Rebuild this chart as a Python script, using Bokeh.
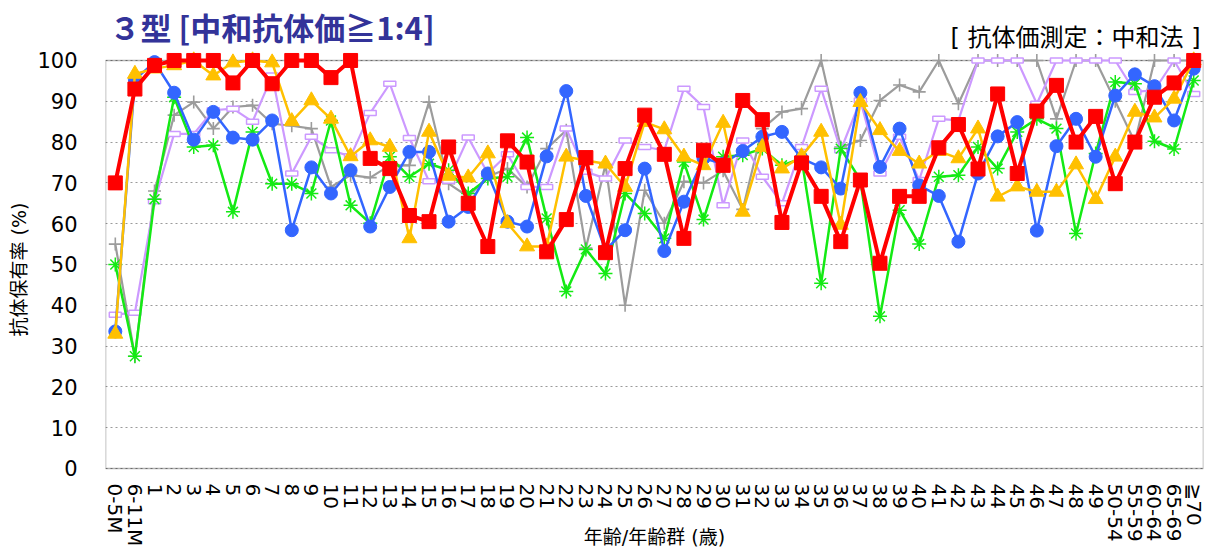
import math
from bokeh.plotting import figure
from bokeh.models import FactorRange, Range1d, FixedTicker, BoxAnnotation, Label, Title
from bokeh.embed import file_html
from bokeh.resources import INLINE

cats = ["0-5M", "6-11M", "1", "2", "3", "4", "5", "6", "7", "8", "9", "10",
        "11", "12", "13", "14", "15", "16", "17", "18", "19", "20",
        "21", "22", "23", "24", "25", "26", "27", "28", "29", "30",
        "31", "32", "33", "34", "35", "36", "37", "38", "39", "40",
        "41", "42", "43", "44", "45", "46", "47", "48", "49",
        "50-54", "55-59", "60-64", "65-69", "≧70"]

gray = [55, 27.5, 68, 86.6, 89.8, 83.3, 88.6, 89, 84.5, 84, 83.3, 69,
        71.9, 71.3, 74.3, 74.3, 89.8, 69.8, 66.6, 71.5, 73.5, 69,
        78.4, 82.9, 54, 74.5, 40, 68.2, 60.1, 70.3, 70, 73,
        63.5, 83.3, 87.4, 88.2, 100, 78.8, 80.4, 90.2, 94, 92.3,
        100, 89.4, 100, 100, 100, 100, 85.7, 100, 100,
        90, 80, 100, 100, 100]

violet = [37.7, 38.2, 65.5, 82, 82, 87.8, 88.2, 85, 96.3, 72.3, 81.3, 78,
          76.5, 87.1, 94.3, 81, 70.4, 70.5, 81.1, 72.3, 77, 69,
          69, 83.3, 72.7, 71.1, 80.4, 78.8, 78, 93.1, 88.6, 64.5,
          80.4, 71.5, 65, 78.8, 93.1, 78, 90.2, 72.3, 81.3, 70.7,
          85.7, 85.3, 100, 100, 100, 89.4, 100, 100, 100,
          100, 92.3, 92.7, 100, 91.8]

green = [50, 27.5, 66, 91, 78.8, 79.2, 62.9, 82.5, 69.8, 69.8, 67.4, 85.3,
         64.5, 60.1, 76.4, 71.5, 74.7, 73.1, 67.4, 71.1, 71.5, 81.1,
         61.3, 43.4, 53.7, 47.8, 67.4, 62.5, 56.4, 75.1, 61, 76.4,
         76.8, 78.4, 74.3, 76, 45.4, 78.4, 70.7, 37.3, 63.3, 55,
         71.5, 71.9, 78.8, 73.5, 82.5, 85.7, 83.3, 57.6, 77.2,
         94.7, 94.3, 80.2, 78.3, 95.1]

blue = [33.6, 95.3, 99.6, 92.1, 80.6, 87.4, 81.1, 80.6, 85.3, 58.4, 73.8, 67.4,
        73.1, 59.3, 69, 77.6, 77.6, 60.5, 64.1, 72.3, 60.5, 59.3,
        76.5, 92.5, 66.8, 53.5, 58.4, 73.5, 53.3, 65.4, 76, 74.7,
        77.8, 81.3, 82.5, 76, 73.8, 68.6, 92.1, 73.9, 83.3, 69.4,
        66.8, 55.6, 72.3, 81.4, 84.9, 58.3, 79, 85.7, 76.4,
        91.4, 96.6, 93.7, 85.3, 98]

yellow = [33, 96.7, 98, 98.8, 100, 96.3, 99.5, 100, 99.5, 85.1, 90.2, 85.7,
          76.5, 80.4, 78.8, 56.4, 82.5, 71.7, 71.3, 77.2, 60.1, 54.4,
          54.4, 76.4, 75.5, 74.7, 69, 84.9, 83.1, 76.4, 74.3, 84.7,
          62.9, 78.8, 73.5, 76.5, 82.5, 59.7, 89.8, 82.9, 77.8, 74.7,
          77.8, 76, 83.3, 66.6, 69.1, 67.8, 67.8, 74.5, 66,
          76.4, 87.4, 86, 90.6, 100]

red = [70, 93, 98.8, 100, 100, 100, 94.5, 100, 94.3, 100, 100, 95.8,
       100, 76, 73.5, 62, 60.5, 78.8, 65, 54.4, 80.3, 75.1,
       53.1, 61, 76.2, 52.9, 73.5, 86.6, 77, 56.4, 78, 74.3,
       90.2, 85.5, 60.3, 74.9, 66.7, 55.6, 70.7, 50.3, 66.7, 66.7,
       78.6, 84.3, 73.4, 91.8, 72.3, 87.6, 93.9, 80, 86.3,
       69.8, 80, 91, 94.5, 100]

y_ticks = [0, 10, 20, 30, 40, 50, 60, 70, 80, 90, 100]

title_text = "３型 [中和抗体価≧1:4]"
method_text = "[ 抗体価測定：中和法 ]"
y_title = "抗体保有率 (%)"
x_title = "年齢/年齢群 (歳)"

MIXED = "'DejaVu Sans', 'Noto Sans CJK JP'"

p = figure(x_range=FactorRange(*cats), y_range=Range1d(-20.1, 112.25),
           width=1208, height=550, output_backend="svg", toolbar_location=None,
           min_border_left=105, min_border_right=5, min_border_top=10,
           min_border_bottom=0)
p.outline_line_color = None
p.background_fill_color = "white"
p.border_fill_color = "white"

p.yaxis.ticker = FixedTicker(ticks=y_ticks)
p.yaxis.axis_line_color = None
p.yaxis.major_tick_line_color = None
p.yaxis.minor_tick_line_color = None
p.yaxis.major_tick_in = 0
p.yaxis.major_tick_out = 0
p.yaxis.major_label_standoff = 28
p.yaxis.major_label_text_font = "DejaVu Sans"
p.yaxis.major_label_text_font_size = "21px"
p.yaxis.major_label_text_color = "black"

p.xaxis.fixed_location = 0
p.xaxis.axis_line_color = None
p.xaxis.major_tick_line_color = None
p.xaxis.minor_tick_line_color = None
p.xaxis.major_tick_in = 0
p.xaxis.major_tick_out = 0
p.xaxis.major_label_orientation = "vertical"
p.xaxis.major_label_standoff = 15
p.xaxis.major_label_text_font = "DejaVu Sans"
p.xaxis.major_label_text_font_size = "20px"
p.xaxis.major_label_text_color = "black"

p.xgrid.visible = False
p.ygrid.grid_line_color = "#9a9a9a"
p.ygrid.grid_line_dash = "2 3"
p.ygrid.grid_line_width = 1.2

frame_box = BoxAnnotation(bottom=0, top=100, fill_color=None, fill_alpha=0,
                          line_color="black", line_width=1.6, level="underlay")
p.add_layout(frame_box)

# gray
p.line(cats, gray, line_color="#9c9c9c", line_width=2.2)
p.scatter(cats, gray, marker="cross", size=13, line_color="#9c9c9c", line_width=1.6)
# violet
p.line(cats, violet, line_color="#cc99ff", line_width=2.2)
p.rect(x=cats, y=violet, width=12, height=5, width_units="screen", height_units="screen",
       fill_color="white", line_color="#cc99ff", line_width=1.5)
# green
p.line(cats, green, line_color="#14ea14", line_width=2.5)
p.scatter(cats, green, marker="asterisk", size=14, line_color="#14ea14", line_width=1.5)
# blue
p.line(cats, blue, line_color="#3366ff", line_width=2.5)
p.scatter(cats, blue, marker="circle", size=13, fill_color="#3366ff", line_color="#3366ff")
# yellow
p.line(cats, yellow, line_color="#ffc000", line_width=2.5)
p.scatter(cats, yellow, marker="triangle", size=15, fill_color="#ffc000", line_color="#ffc000")
# red
p.line(cats, red, line_color="#ff0000", line_width=4)
p.scatter(cats, red, marker="square", size=14, fill_color="#ff0000", line_color="#ff0000")

p.add_layout(Label(x=4, x_units="screen", y=108.3, text=title_text,
                   text_font="Noto Sans CJK JP", text_font_size="31px",
                   text_font_style="bold", text_color="#333399",
                   text_baseline="middle", text_align="left"))
p.add_layout(Label(x=1095, x_units="screen", y=105.4, text=method_text,
                   text_font=MIXED, text_font_size="24px",
                   text_color="black", text_baseline="middle", text_align="right"))
p.add_layout(Label(x=549, x_units="screen", y=-16.9, text=x_title,
                   text_font=MIXED, text_font_size="19px",
                   text_color="black", text_baseline="middle", text_align="center"))

ytitle = Title(text=y_title, align="left", offset=214,
               text_font=MIXED, text_font_size="19px",
               text_font_style="normal", text_color="black")
p.add_layout(ytitle, "left")

open("out.html", "w").write(file_html(p, INLINE))
